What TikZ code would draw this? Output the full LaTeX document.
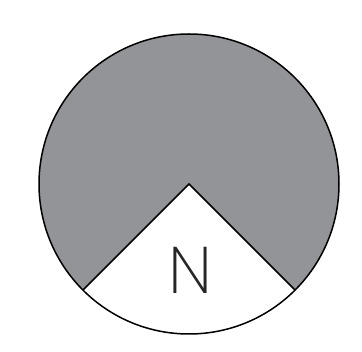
\documentclass[tikz,border=0pt]{standalone}
\usepackage{fontspec}
\IfFontExistsTF{Poppins ExtraLight}{\newfontfamily\nfont{Poppins ExtraLight}}{%
\IfFontExistsTF{Poppins Light}{\newfontfamily\nfont{Poppins Light}}{%
\IfFontExistsTF{Lato Light}{\newfontfamily\nfont{Lato Light}}{%
\IfFontExistsTF{DejaVu Sans ExtraLight}{\newfontfamily\nfont{DejaVu Sans ExtraLight}}{%
\newfontfamily\nfont{DejaVu Sans}}}}}
\definecolor{wedgegray}{RGB}{147,148,152}
\tikzset{outline/.style={line width=1.5pt, draw=black, line join=miter}}
\begin{document}
\begin{tikzpicture}[x=1pt,y=-1pt]
\useasboundingbox (0,0) rectangle (362,352);
\coordinate (c) at (189,184);
\fill[wedgegray] (c) -- ++(135:150) arc[start angle=135, end angle=405, radius=150] -- cycle;
\draw[outline] (c) circle[radius=150];
\draw[outline] ([shift={(135:150)}]c) -- (c) -- ([shift={(45:150)}]c);
\node[font=\nfont\fontsize{66}{66}\selectfont, anchor=base, inner sep=0pt, text=black!85] (n) at (190.3,293.3) {N};
\end{tikzpicture}
\end{document}
